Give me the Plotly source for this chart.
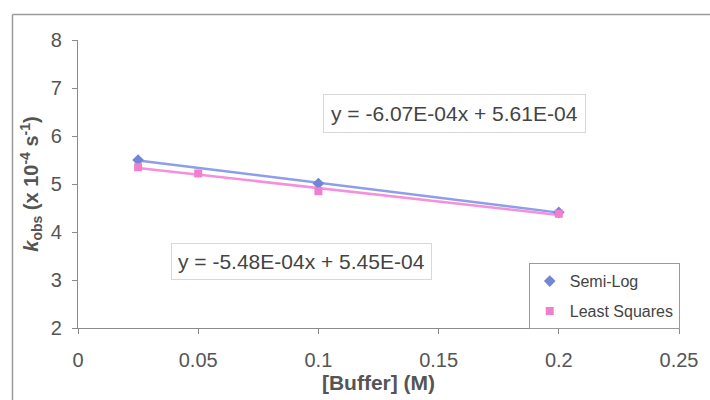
import numpy as np
import plotly.graph_objects as go

# Data (k_obs in units of 1e-4 s^-1)
semi_x = [0.025, 0.1, 0.2]
semi_y = [5.50, 5.01, 4.41]
ls_x = [0.025, 0.05, 0.1, 0.2]
ls_y = [5.35, 5.22, 4.85, 4.38]

eq_semi = "y = -6.07E-04x + 5.61E-04"
eq_ls = "y = -5.48E-04x + 5.45E-04"

x_ticks = [0, 0.05, 0.1, 0.15, 0.2, 0.25]
x_ticklabels = ["0", "0.05", "0.1", "0.15", "0.2", "0.25"]
y_ticks = [2, 3, 4, 5, 6, 7, 8]

blue_m = "#7386d6"
blue_l = "#8c9fe8"
pink_m = "#f07fd0"
pink_l = "#f590dc"

FONT = "Liberation Sans, Arial, sans-serif"

fig = go.Figure()

# trendlines (linear fits over the data range)
for xs, ys, col in [(semi_x, semi_y, blue_l), (ls_x, ls_y, pink_l)]:
    p = np.polyfit(xs, ys, 1)
    xx = np.array([min(xs), max(xs)])
    fig.add_trace(go.Scatter(x=xx, y=np.polyval(p, xx), mode="lines",
                             line=dict(color=col, width=2.5),
                             showlegend=False, hoverinfo="skip"))

fig.add_trace(go.Scatter(x=semi_x, y=semi_y, mode="markers", name="Semi-Log",
                         marker=dict(symbol="diamond", size=9, color=blue_m),
                         legendgroup="a"))
fig.add_trace(go.Scatter(x=ls_x, y=ls_y, mode="markers", name="Least Squares",
                         marker=dict(symbol="square", size=8, color=pink_m),
                         legendgroup="b"))

axis_col = "#8a8a8a"
tick_font = dict(family=FONT, size=20, color="#555555")

fig.update_xaxes(range=[0, 0.25], tickvals=x_ticks, ticktext=x_ticklabels,
                 showgrid=False, zeroline=False, showline=True, linecolor=axis_col,
                 linewidth=1.2, ticks="outside", ticklen=5, tickcolor=axis_col,
                 tickfont=tick_font, ticklabelstandoff=9,
                 title=dict(text="<b>[Buffer] (M)</b>", standoff=2,
                            font=dict(family=FONT, size=21, color="#555555")))
fig.update_yaxes(range=[2, 8], tickvals=y_ticks,
                 showgrid=False, zeroline=False, showline=True, linecolor=axis_col,
                 linewidth=1.2, ticks="outside", ticklen=5, tickcolor=axis_col,
                 tickfont=tick_font, ticklabelstandoff=6,
                 title=dict(text="<b><i>k</i><sub>obs</sub> (x 10<sup>-4</sup> s<sup>-1</sup>)</b>",
                            standoff=6,
                            font=dict(family=FONT, size=20, color="#555555")))

eq_font = dict(family=FONT, size=21, color="#444444")
fig.add_annotation(x=0.1566, y=6.47, text=eq_semi, showarrow=False, font=eq_font,
                   bgcolor="white", bordercolor="#d8d8d8", borderwidth=1, borderpad=7)
fig.add_annotation(x=0.093, y=3.39, text=eq_ls, showarrow=False, font=eq_font,
                   bgcolor="white", bordercolor="#d8d8d8", borderwidth=1, borderpad=6)

# outer chart frame: only its left and top edges are visible in the reference
frame = dict(color="#9a9a9a", width=1.5)
fig.add_shape(type="line", xref="paper", yref="paper",
              x0=-0.109, x1=-0.109, y0=-0.3, y1=1.0887, line=frame, layer="below")
fig.add_shape(type="line", xref="paper", yref="paper",
              x0=-0.109, x1=1.1, y0=1.0887, y1=1.0887, line=frame, layer="below")

fig.update_layout(
    width=710, height=400,
    margin=dict(l=78, r=27, t=40, b=67),
    paper_bgcolor="white", plot_bgcolor="white",
    legend=dict(x=0.750, y=0.225, xanchor="left", yanchor="top",
                bgcolor="white", bordercolor="#9a9a9a", borderwidth=1,
                font=dict(family=FONT, size=16, color="#444444"),
                tracegroupgap=6, itemwidth=30),
)

fig.write_html("out.html",
               config={"displayModeBar": False},
               post_script="document.body.style.margin='0';"
                           "document.body.style.overflow='hidden';")
